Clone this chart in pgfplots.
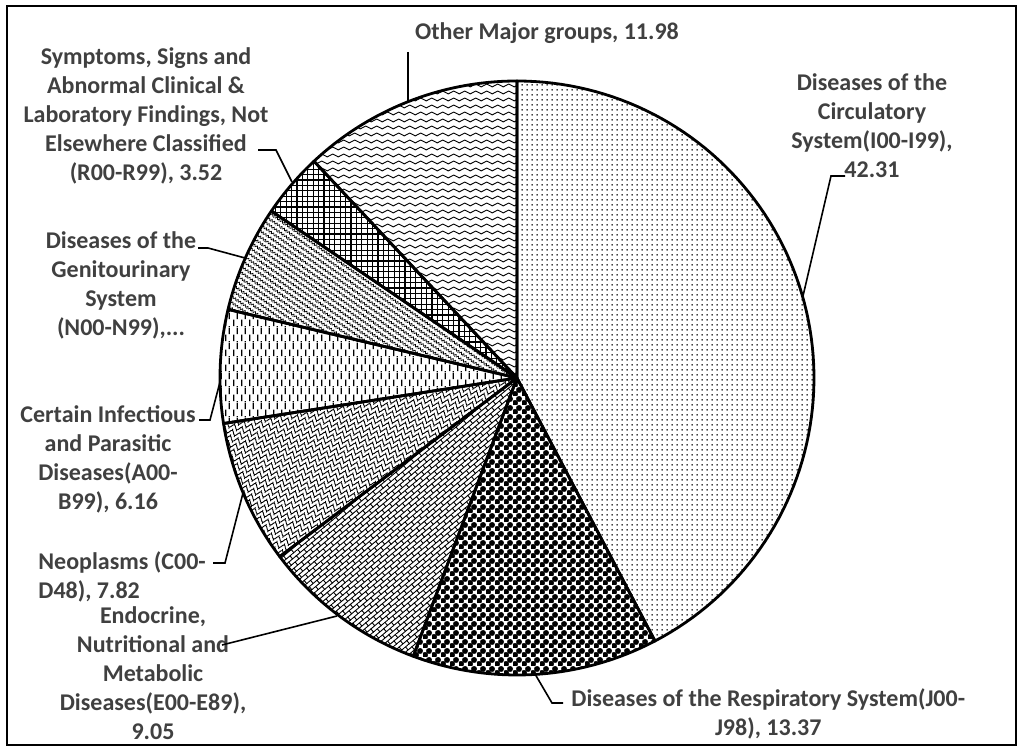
\documentclass[border=0pt]{standalone}
\usepackage{fontspec}
\setmainfont{Carlito}
\usepackage{pgfplots}
\pgfplotsset{compat=1.18}
\usetikzlibrary{patterns.meta}

\definecolor{lbl}{RGB}{64,64,64}

% fill patterns, one per slice
\tikzdeclarepattern{name=pdots, type=uncolored,
  bounding box={(0,0) and (2.5pt,2.5pt)}, tile size={(2.5pt,2.5pt)},
  code={\fill (1.25pt,1.25pt) circle (0.5pt);}}
\tikzdeclarepattern{name=pballs, type=uncolored,
  bounding box={(0,0) and (4.5pt,4.5pt)}, tile size={(4.5pt,4.5pt)},
  code={\fill (1.125pt,1.125pt) circle (1.6pt); \fill (3.375pt,3.375pt) circle (1.6pt);
        \draw[line width=0.4pt] (0,2.25pt)--(4.5pt,2.25pt) (2.25pt,0)--(2.25pt,4.5pt);}}
\tikzdeclarepattern{name=pbricks, type=uncolored,
  bounding box={(-0.3pt,-0.3pt) and (5.3pt,4.3pt)}, tile size={(5pt,4pt)},
  tile transformation={rotate=40},
  code={\draw[line width=0.45pt] (-0.3pt,0)--(5.3pt,0) (-0.3pt,2pt)--(5.3pt,2pt)
        (0,0)--(0,2pt) (2.5pt,2pt)--(2.5pt,4pt);}}
\tikzdeclarepattern{name=pscales, type=uncolored,
  bounding box={(-0.3pt,-0.3pt) and (4.3pt,3.3pt)}, tile size={(4pt,3pt)},
  tile transformation={rotate=-20},
  code={\draw[line width=0.45pt] (0,1.5pt) .. controls (0.6pt,0.2pt) and (1.4pt,0.2pt) .. (2pt,1.5pt)
        .. controls (2.6pt,2.8pt) and (3.4pt,2.8pt) .. (4pt,1.5pt)
        (1pt,0.55pt)--(1pt,-0.9pt) (3pt,2.45pt)--(3pt,3.9pt);}}
\tikzdeclarepattern{name=pvdash, type=uncolored,
  bounding box={(0,0) and (4pt,7.5pt)}, tile size={(4pt,7.5pt)},
  code={\draw[line width=0.7pt] (1pt,0.4pt)--(1pt,3.9pt) (3pt,4.15pt)--(3pt,7.65pt);
        \draw[line width=0.7pt] (3pt,0)--(3pt,0.4pt);}}
\tikzdeclarepattern{name=pzigzag, type=uncolored,
  bounding box={(-0.2pt,-0.2pt) and (3.2pt,2.7pt)}, tile size={(3pt,2.5pt)},
  tile transformation={rotate=-35},
  code={\draw[line width=0.35pt] (0,0.5pt)--(0.75pt,1.6pt)--(1.5pt,0.5pt)--(2.25pt,1.6pt)--(3pt,0.5pt);
        \fill (2.25pt,0.35pt) circle (0.22pt);}}
\tikzdeclarepattern{name=pgrid, type=uncolored,
  bounding box={(-0.4pt,-0.4pt) and (3.1pt,3.1pt)}, tile size={(2.7pt,2.7pt)},
  code={\draw[line width=0.6pt] (-0.4pt,0)--(3.1pt,0) (0,-0.4pt)--(0,3.1pt);}}
\tikzdeclarepattern{name=pwaves, type=uncolored,
  bounding box={(-0.2pt,0) and (5.7pt,3.5pt)}, tile size={(5.5pt,3.5pt)},
  code={\draw[line width=0.45pt] (0,1.75pt) sin (1.375pt,2.45pt) cos (2.75pt,1.75pt)
        sin (4.125pt,1.05pt) cos (5.5pt,1.75pt);}}

% one pie slice: #1 share before it, #2 its share (percent), #3 style
\newcommand{\slice}[3]{%
  \pgfmathsetmacro{\angA}{90-3.6*(#1+#2)}%
  \pgfmathsetmacro{\angB}{90-3.6*(#1)}%
  \addplot[#3, draw=black, line width=1.4pt, line join=round,
    domain=\angA:\angB, samples=90, variable=\t]
    ({517+297*cos(\t)}, {369+297*sin(\t)}) -- (axis cs:517,369) -- cycle;
}

\tikzset{lbl/.style={font=\fontsize{12}{14.5}\selectfont\bfseries, text=lbl,
  align=center, inner sep=0pt},
  lead/.style={line width=0.8pt, black}}

\begin{document}
\begin{tikzpicture}
\begin{axis}[x=0.5pt, y=0.5pt, xmin=0, xmax=1017, ymin=0, ymax=747,
    hide axis, clip=false]
\path (axis cs:0,0) rectangle (axis cs:1017,747);

\slice{0}{42.31}{pattern=pdots, pattern color=black}
\slice{42.31}{13.37}{pattern=pballs, pattern color=black}
\slice{55.68}{9.05}{pattern=pbricks, pattern color=black}
\slice{64.73}{7.82}{pattern=pscales, pattern color=black}
\slice{72.55}{6.16}{pattern=pvdash, pattern color=black}
\slice{78.71}{5.79}{pattern=pzigzag, pattern color=black}
\slice{84.50}{3.52}{pattern=pgrid, pattern color=black}
\slice{88.02}{11.98}{pattern=pwaves, pattern color=black}

% labels
\node[lbl] at (axis cs:547,714) {Other Major groups, 11.98};
\node[lbl] at (axis cs:872,621) {Diseases of the\\Circulatory\\System(I00-I99),\\42.31};
\node[lbl] at (axis cs:146,631) {Symptoms, Signs and\\Abnormal Clinical \&\\Laboratory Findings, Not\\Elsewhere Classified\\(R00-R99), 3.52};
\node[lbl] at (axis cs:121,462) {Diseases of the\\Genitourinary\\System\\(N00-N99),...};
\node[lbl] at (axis cs:108,288) {Certain Infectious\\and Parasitic\\Diseases(A00-\\B99), 6.16};
\node[lbl, align=left, anchor=west] at (axis cs:38,170) {Neoplasms (C00-\\D48), 7.82};
\node[lbl] at (axis cs:153,74) {Endocrine,\\Nutritional and\\Metabolic\\Diseases(E00-E89),\\9.05};
\node[lbl, anchor=west] at (axis cs:571,33) {Diseases of the Respiratory System(J00-\\J98), 13.37};

% leader lines
\draw[lead] (axis cs:408,695) -- (axis cs:408,645);
\draw[lead] (axis cs:845,571) -- (axis cs:831,571) -- (axis cs:803,451);
\draw[lead] (axis cs:258,597) -- (axis cs:276,597) -- (axis cs:292,565);
\draw[lead] (axis cs:198,499) -- (axis cs:208,499) -- (axis cs:245,489);
\draw[lead] (axis cs:199,327) -- (axis cs:210,327) -- (axis cs:220,365);
\draw[lead] (axis cs:213,184) -- (axis cs:225,184) -- (axis cs:243,254);
\draw[lead] (axis cs:222,102) -- (axis cs:337,131);
\draw[lead] (axis cs:563,44) -- (axis cs:552,44) -- (axis cs:535,73);

% frame
\draw[line width=1pt] (axis cs:7,1.5) rectangle (axis cs:1015.5,741);
\end{axis}
\end{tikzpicture}
\end{document}
